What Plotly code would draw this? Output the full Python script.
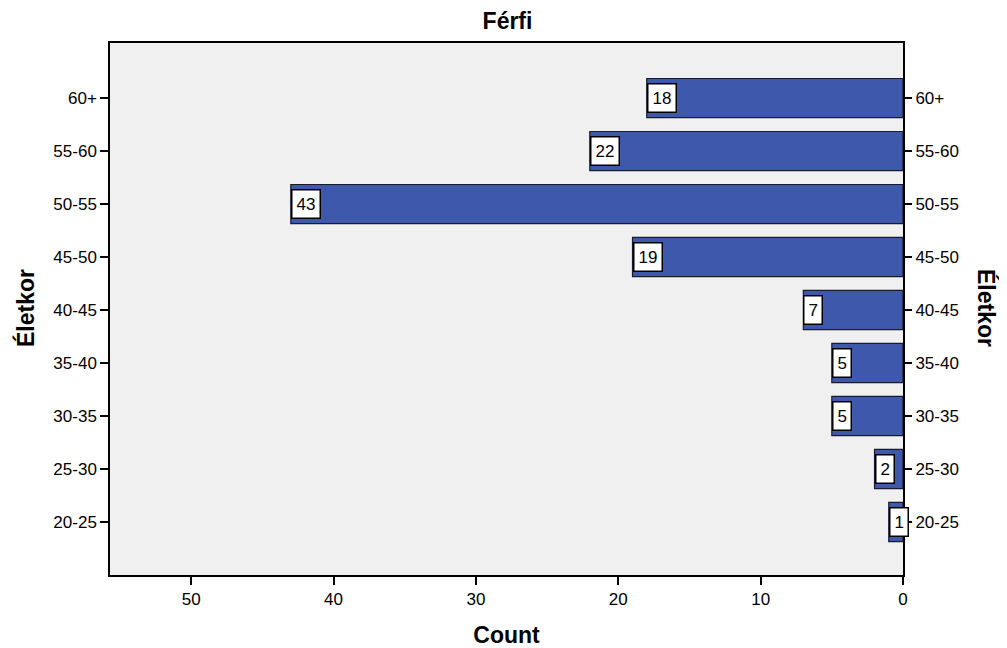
import plotly.graph_objects as go

categories = ["20-25", "25-30", "30-35", "35-40", "40-45", "45-50", "50-55", "55-60", "60+"]
counts = [1, 2, 5, 5, 7, 19, 43, 22, 18]
x_ticks = [0, 10, 20, 30, 40, 50]

FONT = "Liberation Sans, Arial, sans-serif"

# page body has an 8px default margin; compensate so plot box lands at 110..903 x 43..575
OFF = 8
W, H = 1007 - OFF, 648 - OFF
ML, MR, MT, MB = 110 - OFF, 104, 43 - OFF, 73
PW = 1007 - 110 - 104
PH = 575 - 43

fig = go.Figure()
fig.add_trace(go.Bar(
    x=counts, y=categories, orientation="h",
    marker=dict(color="#3E58AC", line=dict(color="#1a1a2e", width=1.2)),
    width=0.74, showlegend=False, hoverinfo="x+y",
))
# invisible trace to drive right-hand axis
fig.add_trace(go.Scatter(
    x=[0] * len(categories), y=categories, yaxis="y2", mode="markers",
    marker=dict(opacity=0), showlegend=False, hoverinfo="skip",
))

for c, v in zip(categories, counts):
    fig.add_annotation(
        x=v, y=c, text=str(v), showarrow=False, xanchor="left", yanchor="middle",
        font=dict(family=FONT, size=17, color="black"),
        bgcolor="white", bordercolor="black", borderwidth=1.5, borderpad=4,
    )

ty = (575 - 308) / PH
fig.add_annotation(x=(25 - 110) / PW, y=ty, xref="paper", yref="paper", text="<b>Életkor</b>",
                   textangle=-90, showarrow=False, xanchor="center", yanchor="middle",
                   font=dict(size=23, family=FONT))
fig.add_annotation(x=(987 - 110) / PW, y=ty, xref="paper", yref="paper", text="<b>Életkor</b>",
                   textangle=90, showarrow=False, xanchor="center", yanchor="middle",
                   font=dict(size=23, family=FONT))

fig.update_layout(
    width=W, height=H,
    margin=dict(l=ML, r=MR, t=MT, b=MB, autoexpand=False),
    paper_bgcolor="white", plot_bgcolor="#F0F0F0",
    font=dict(family=FONT, size=17, color="black"),
    title=dict(text="<b>Férfi</b>", x=0.5, xanchor="center", y=1 - (21 - OFF) / H, yanchor="middle",
               font=dict(size=23, family=FONT)),
    xaxis=dict(
        range=[55.7, 0], tickvals=x_ticks, ticks="outside", ticklen=8, tickwidth=2, tickcolor="black",
        showgrid=False, zeroline=False, showline=True, linecolor="black", linewidth=1.5, mirror=True,
        title=dict(text="<b>Count</b>", font=dict(size=23), standoff=19),
        tickfont=dict(size=17),
    ),
    yaxis=dict(
        type="category", categoryarray=categories, range=[-1, 9.04],
        ticks="outside", ticklen=8, tickwidth=2, tickcolor="black",
        showgrid=False, zeroline=False, showline=True, linecolor="black", linewidth=1.5, mirror=True,
        tickfont=dict(size=17),
    ),
    yaxis2=dict(
        type="category", categoryarray=categories, range=[-1, 9.04], overlaying="y", side="right",
        ticks="outside", ticklen=8, tickwidth=2, tickcolor="black",
        showgrid=False, zeroline=False, showline=False, tickfont=dict(size=17),
    ),
)

fig.write_html("out.html")
